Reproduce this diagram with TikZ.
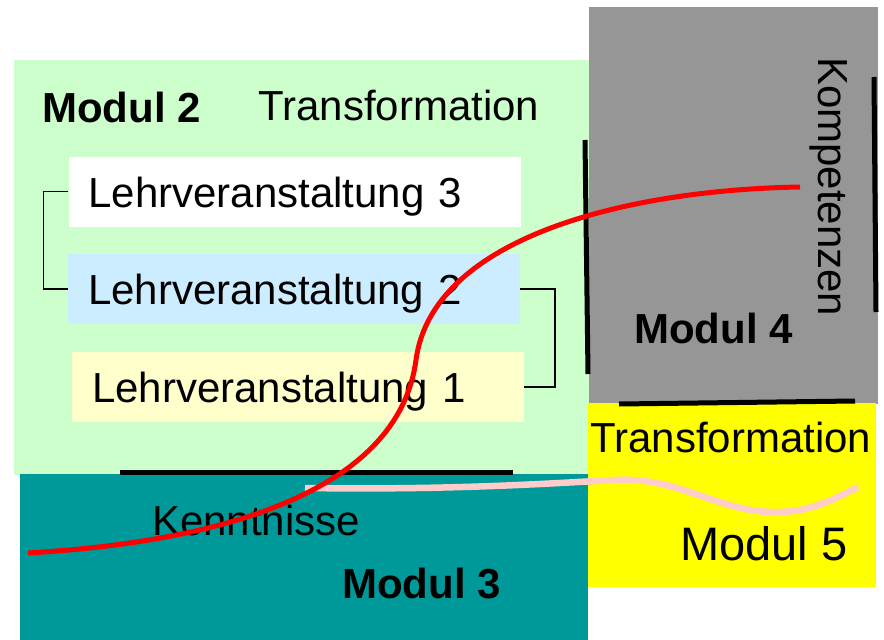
\documentclass[tikz,border=0pt]{standalone}
\usepackage{fontspec}
\setmainfont{Liberation Sans}
\usetikzlibrary{positioning}

\definecolor{modgreen}{HTML}{CCFFCC}
\definecolor{modteal}{HTML}{009999}
\definecolor{modgray}{HTML}{969696}
\definecolor{modyellow}{HTML}{FFFF00}
\definecolor{lvblue}{HTML}{CCECFF}
\definecolor{lvyellow}{HTML}{FFFFCC}
\definecolor{pinkline}{HTML}{FFCCCC}

\begin{document}
\begin{tikzpicture}[x=1pt, y=-1pt,
    txt/.style={inner sep=0, anchor=base west, font=\fontsize{42}{50}\selectfont},
    modbold/.style={txt, font=\fontsize{42}{50}\selectfont\bfseries},
    lv/.style={txt, anchor=center, text width=412pt, inner xsep=20pt, inner ysep=0pt,
        minimum height=70pt, text height=33pt, text depth=2pt, align=left},
    bar/.style={line width=5pt},
    bracket/.style={line width=1.5pt}]

    \useasboundingbox (0,0) rectangle (884,640);

    % Modules
    \fill[modgreen] (14,60) rectangle (590,475);
    \fill[modteal] (20,474) rectangle (588,640);
    \fill[modgray] (589,7) rectangle (878,404);
    \fill[modyellow] (588,403) rectangle (876,587);

    % Lehrveranstaltungen
    \node[lv, fill=white] (lv3) at (294.5,191.5) {Lehrveranstaltung 3};
    \node[lv, fill=lvblue] (lv2) at (294,289) {Lehrveranstaltung 2};
    \node[lv, fill=lvyellow] (lv1) at (298,387) {Lehrveranstaltung 1};
    \draw[bracket] (lv3.west) -- ++(-25,0) |- (lv2.west);
    \draw[bracket] (lv2.east) -- ++(35,0) |- (lv1.east);

    % Labels
    \node[modbold] (m2) at (42,122) {Modul 2};
    \node[txt] (trans2) at (258,120) {Transformation};
    \node[txt] (kennt) at (152,535) {Kenntnisse};
    \node[modbold] (m3) at (342,598) {Modul 3};
    \node[modbold] (m4) at (634,343) {Modul 4};
    \node[txt, rotate=-90] (komp) at (818,57) {Kompetenzen};
    \node[txt] (trans5) at (590,452) {Transformation};
    \node[txt, font=\fontsize{47}{56}\selectfont] (m5) at (680,560) {Modul 5};

    % Borders
    \draw[bar] (120,472) -- (513,472);
    \draw[bar] (585,140) -- (588,374);
    \draw[bar] (874,77) -- (876,312);
    \draw[bar] (619,404) -- (855,401);

    % Pfade
    \coordinate (pinkstart) at (305,488);
    \coordinate (pinkend) at (858,487);
    \draw[pinkline, line width=6.5pt] (pinkstart) .. controls (450,490) and (540,484) .. (615,480)
        .. controls (680,476) and (720,514) .. (780,512)
        .. controls (815,511) and (840,496) .. (pinkend);

    \coordinate (redstart) at (28,553);
    \coordinate (redend) at (800,187);
    \draw[red, line width=5pt] (redstart) .. controls (250,540) and (400,480) .. (416,360)
        .. controls (432,240) and (620,190) .. (redend);

\end{tikzpicture}
\end{document}
